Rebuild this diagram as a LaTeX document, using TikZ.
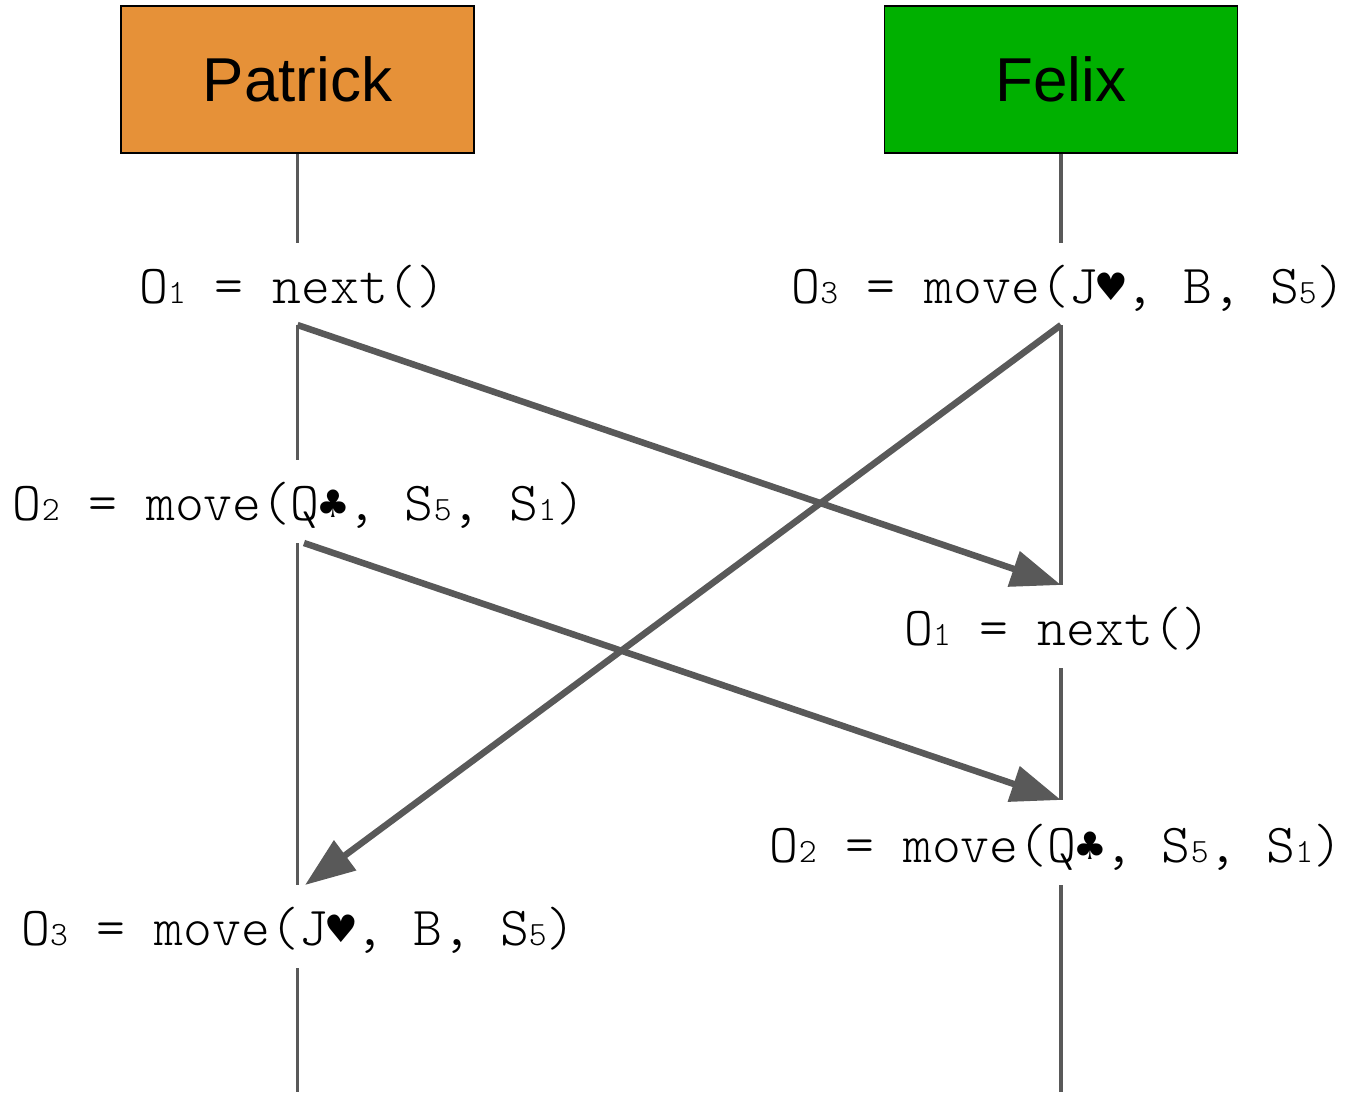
\documentclass[tikz,border=0pt]{standalone}
\usepackage{fontspec}
\setmainfont{Liberation Sans}
\newfontfamily\codefont{Latin Modern Mono Light}
\newfontfamily\suitfont{DejaVu Sans Mono}
\usetikzlibrary{arrows.meta}
\definecolor{orgc}{HTML}{E69138}
\definecolor{grnc}{HTML}{00B000}
\definecolor{linec}{HTML}{595959}
\newcommand\subd[1]{{\fontsize{34}{34}\selectfont #1}}
\newcommand\suit[1]{{\suitfont\fontsize{46}{46}\selectfont #1}}
\tikzset{
  actor/.style={draw=black, line width=1.5pt, minimum width=353pt, minimum height=147pt, inner sep=0pt,
    font=\fontsize{62}{62}\selectfont},
  lbl/.style={inner sep=0pt, anchor=base, font=\codefont\fontsize{55}{55}\selectfont},
  life/.style={draw=linec, line width=3.5pt},
  msg/.style={draw=linec, line width=6.5pt, -{Triangle[length=50pt,width=36pt]}, fill=linec}
}
\begin{document}
\begin{tikzpicture}[x=1pt,y=-1pt]
\useasboundingbox (0,0) rectangle (1365,1095);
% actors
\node[actor, fill=orgc] (P) at (297.5,79.5) {Patrick};
\node[actor, fill=grnc] (F) at (1061,79.5) {Felix};
% labels
\node[lbl] (l1) at (292.5,303) {O\subd{1} = next()};
\node[lbl] (r1) at (1068.5,303) {O\subd{3} = move(J\suit{♥}, B, S\subd{5})};
\node[lbl] (l2) at (299,520) {O\subd{2} = move(Q\suit{♣}, S\subd{5}, S\subd{1})};
\node[lbl] (r2) at (1057.5,645) {O\subd{1} = next()};
\node[lbl] (r3) at (1056,862) {O\subd{2} = move(Q\suit{♣}, S\subd{5}, S\subd{1})};
\node[lbl] (l3) at (298.5,945) {O\subd{3} = move(J\suit{♥}, B, S\subd{5})};
% lifeline points
\coordinate (pa) at (297.5,243);
\coordinate (pb) at (297.5,325);
\coordinate (pc) at (297.5,460);
\coordinate (pd) at (297.5,543);
\coordinate (pe) at (297.5,885);
\coordinate (pf) at (297.5,968);
\coordinate (pg) at (297.5,1092);
\coordinate (fa) at (1061,243);
\coordinate (fb) at (1061,325);
\coordinate (fc) at (1061,585);
\coordinate (fd) at (1061,668);
\coordinate (fe) at (1061,800);
\coordinate (ff) at (1061,885);
\coordinate (fg) at (1061,1092);
% lifelines
\draw[life] (P.south) -- (pa);
\draw[life] (pb) -- (pc);
\draw[life] (pd) -- (pe);
\draw[life] (pf) -- (pg);
\draw[life] (F.south) -- (fa);
\draw[life] (fb) -- (fc);
\draw[life] (fd) -- (fe);
\draw[life] (ff) -- (fg);
% messages
\coordinate (m2e) at (305,885);
\coordinate (m3s) at (304,543);
\draw[msg] (pb) -- (fc);
\draw[msg] (fb) -- (m2e);
\draw[msg] (m3s) -- (fe);
\end{tikzpicture}
\end{document}
